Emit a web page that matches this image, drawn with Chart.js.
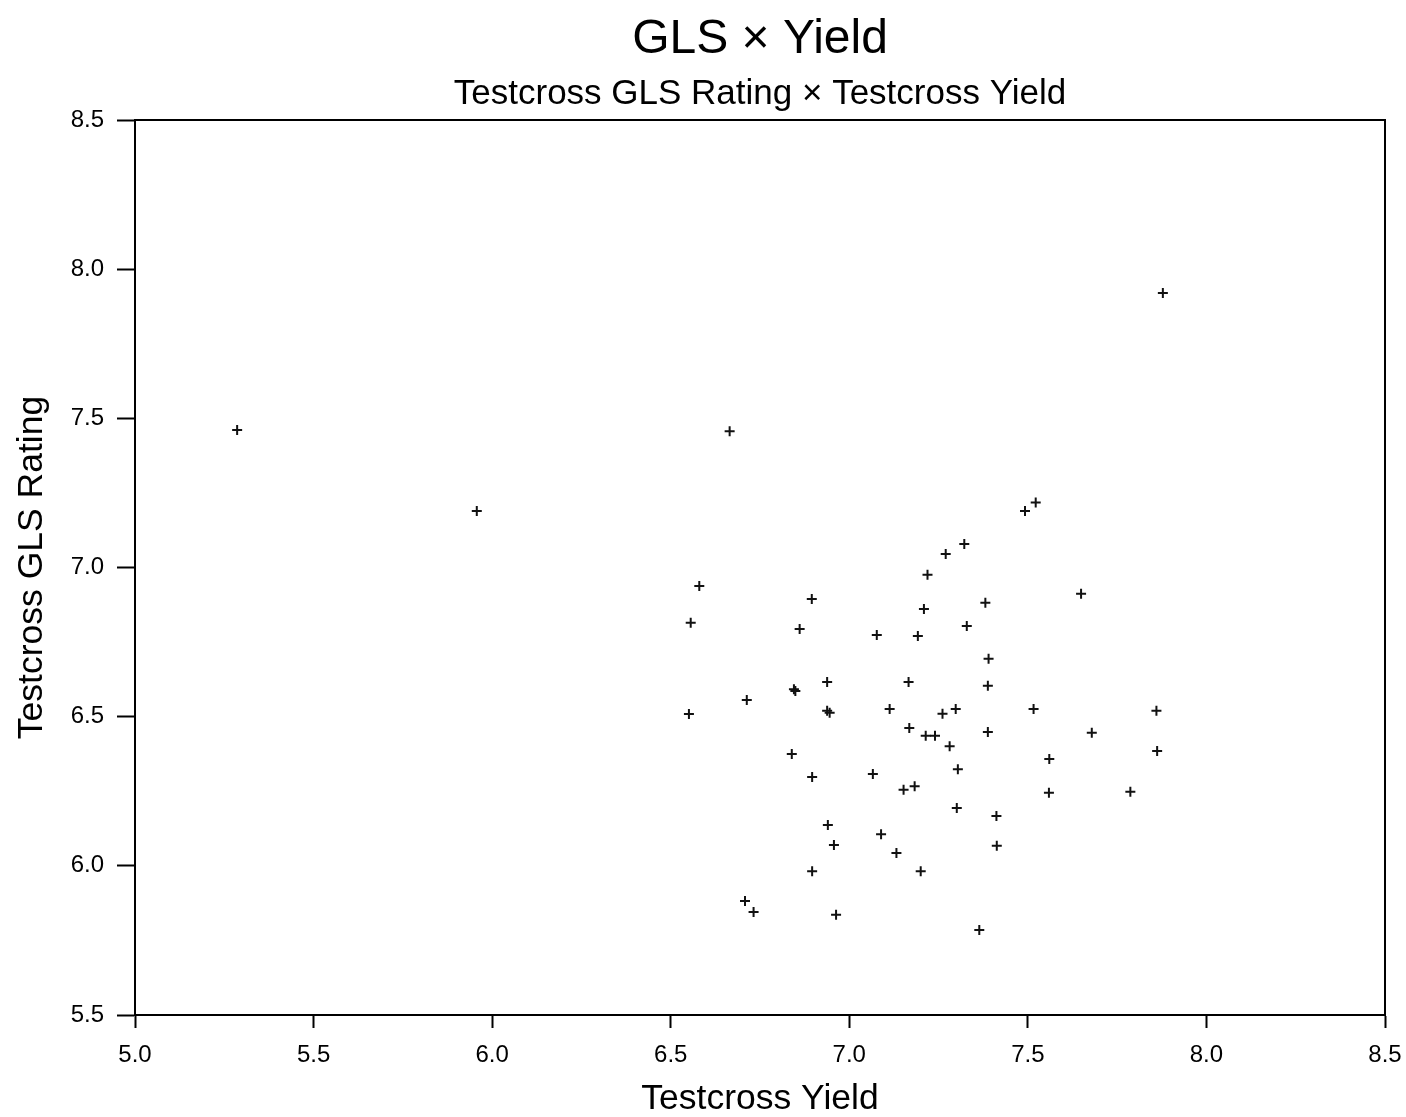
<!DOCTYPE html>
<html>
<head>
<meta charset="utf-8">
<title>GLS × Yield</title>
<script src="https://cdn.jsdelivr.net/npm/chart.js@4/dist/chart.umd.min.js"></script>
<style>
  html, body { margin: 0; padding: 0; background: #ffffff; }
  #wrap { width: 1406px; height: 1117px; }
</style>
</head>
<body>
<div id="wrap"><canvas id="chart" width="1406" height="1117"></canvas></div>
<script>
// Testcross yield (x) and testcross GLS rating (y), one entry per hybrid
const yieldValues = [
  5.286, 5.957, 6.665, 7.878, 6.580, 6.895, 6.556, 6.861, 7.077, 6.938,
  6.845, 6.849, 6.713, 6.551, 6.938, 6.945, 7.113, 7.322, 7.270, 7.219,
  7.649, 7.381, 7.209, 7.329, 7.192, 7.390, 7.166, 7.388, 7.298, 7.261,
  7.516, 7.168, 7.214, 7.240, 7.388, 7.679, 7.281, 7.560, 7.066, 7.304,
  7.152, 7.183, 7.559, 7.301, 7.412, 7.089, 7.413, 7.132, 7.200, 7.364,
  6.839, 6.896, 6.940, 6.957, 6.896, 6.708, 6.732, 6.963, 7.492, 7.522,
  7.860, 7.862, 7.787
];
const glsValues = [
  7.461, 7.189, 7.457, 7.920, 6.938, 6.894, 6.815, 6.794, 6.774, 6.616,
  6.592, 6.586, 6.556, 6.509, 6.520, 6.513, 6.526, 7.079, 7.045, 6.976,
  6.912, 6.882, 6.861, 6.804, 6.770, 6.694, 6.616, 6.604, 6.526, 6.510,
  6.526, 6.462, 6.436, 6.436, 6.449, 6.446, 6.401, 6.358, 6.308, 6.324,
  6.255, 6.267, 6.245, 6.194, 6.167, 6.106, 6.067, 6.043, 5.982, 5.785,
  6.375, 6.298, 6.137, 6.070, 5.982, 5.882, 5.845, 5.836, 7.189, 7.218,
  6.520, 6.385, 6.248
];

// Axis ranges and tick spacing
const xTickValues = [5.0, 5.5, 6.0, 6.5, 7.0, 7.5, 8.0, 8.5];
const yTickValues = [5.5, 6.0, 6.5, 7.0, 7.5, 8.0, 8.5];

const titleText = 'GLS × Yield';
const subtitleText = 'Testcross GLS Rating × Testcross Yield';
const xAxisTitle = 'Testcross Yield';
const yAxisTitle = 'Testcross GLS Rating';

const points = yieldValues.map((x, i) => ({ x: x, y: glsValues[i] }));

const FONT = '"Liberation Sans", Arial, Helvetica, sans-serif';
const INK = '#000000';

// Closes the frame (top and right edges) and writes the two heading lines
// centred over the plot area.
const frameAndHeadings = {
  id: 'frameAndHeadings',
  afterDraw(chart) {
    const { ctx, chartArea: a } = chart;
    ctx.save();
    ctx.strokeStyle = INK;
    ctx.lineWidth = 2;
    ctx.beginPath();
    ctx.moveTo(a.left, a.top);
    ctx.lineTo(a.right, a.top);
    ctx.lineTo(a.right, a.bottom);
    ctx.stroke();

    const cx = (a.left + a.right) / 2;
    ctx.fillStyle = INK;
    ctx.textAlign = 'center';
    ctx.textBaseline = 'alphabetic';
    ctx.font = '48px ' + FONT;
    ctx.fillText(titleText, cx, 53);
    ctx.font = '35px ' + FONT;
    ctx.fillText(subtitleText, cx, 104);
    ctx.restore();
  }
};

function axisOptions(ticksList, tickLen, fitFn, titleStr, titlePad) {
  return {
    type: 'linear',
    min: ticksList[0],
    max: ticksList[ticksList.length - 1],
    afterBuildTicks(scale) {
      scale.ticks = ticksList.map(v => ({ value: v }));
    },
    afterFit: fitFn,
    border: { display: true, color: INK, width: 2 },
    grid: {
      display: true,
      drawOnChartArea: false,
      drawTicks: true,
      tickLength: tickLen,
      tickWidth: 2,
      tickColor: INK,
      color: INK
    },
    ticks: {
      color: INK,
      padding: 13,
      font: { family: FONT, size: 24 },
      callback: v => Number(v).toFixed(1)
    },
    title: {
      display: true,
      text: titleStr,
      color: INK,
      font: { family: FONT, size: 35.5, lineHeight: 1.0 },
      padding: titlePad
    }
  };
}

new Chart(document.getElementById('chart'), {
  type: 'scatter',
  data: {
    datasets: [{
      data: points,
      pointStyle: 'cross',
      pointRadius: 5,
      pointHoverRadius: 5,
      borderColor: '#111111',
      backgroundColor: '#111111',
      borderWidth: 2
    }]
  },
  options: {
    responsive: false,
    animation: false,
    devicePixelRatio: 1,
    layout: { padding: { left: 0, right: 21, top: 120, bottom: 0 } },
    plugins: {
      legend: { display: false },
      tooltip: { enabled: false },
      title: { display: false },
      subtitle: { display: false }
    },
    scales: {
      x: axisOptions(xTickValues, 13, s => {
        s.height = 102;
        s.paddingLeft = 0;
        s.paddingRight = 0;
      }, xAxisTitle, { top: 0, bottom: 0 }),
      y: axisOptions(yTickValues, 18, s => {
        s.width = 135;
        s.paddingTop = 0;
        s.paddingBottom = 0;
      }, yAxisTitle, { top: 14, bottom: 0 })
    }
  },
  plugins: [frameAndHeadings]
});
</script>
</body>
</html>
